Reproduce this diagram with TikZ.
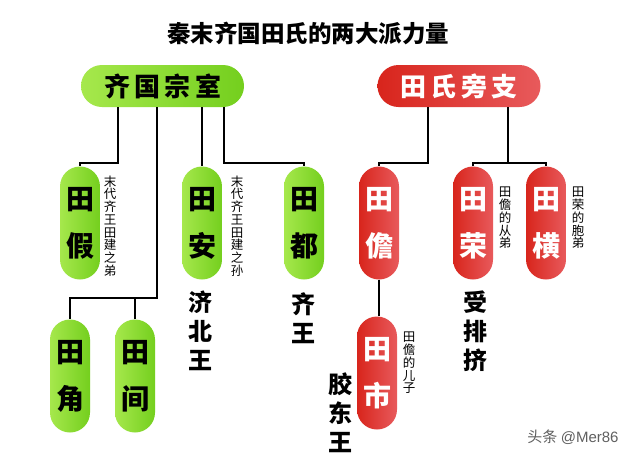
\documentclass[tikz,border=0pt]{standalone}
\usepackage{fontspec}
\newfontfamily\cjk{Noto Sans CJK SC}
\newfontfamily\wmfont{Liberation Sans}
\definecolor{gL}{HTML}{A6E84C}
\definecolor{gR}{HTML}{74CF1E}
\definecolor{rL}{HTML}{D8251C}
\definecolor{rR}{HTML}{E85A5C}
\definecolor{wm}{HTML}{606060}
\tikzset{
  head/.style={rounded corners=21pt, minimum width=163pt, minimum height=42pt, inner sep=0pt,
    font=\cjk\bfseries\fontsize{26}{30}\selectfont},
  ghead/.style={head, left color=gL, right color=gR, text=black},
  rhead/.style={head, left color=rL, right color=rR, text=white},
  pill/.style={rounded corners=20pt, minimum width=40pt, minimum height=113pt, inner sep=0pt,
    align=center, font=\cjk\bfseries\fontsize{28}{47}\selectfont},
  gpill/.style={pill, left color=gL, right color=gR, text=black},
  rpill/.style={pill, left color=rL, right color=rR, text=white},
  note/.style={align=center, inner sep=0pt, font=\cjk\fontsize{12.5}{12.75}\selectfont},
  title/.style={align=center, inner sep=0pt, font=\cjk\bfseries\fontsize{24}{29}\selectfont},
  conn/.style={draw=black, line width=1.4pt},
}
\begin{document}
\begin{tikzpicture}[x=1pt,y=-1pt]
\useasboundingbox[fill=white] (0,0) rectangle (640,459);
\node[inner sep=0pt, font=\cjk\bfseries\fontsize{23.5}{28}\selectfont] (ttl) at (308,33) {秦末齐国田氏的两大派力量};
\node[ghead] (qz) at (162.5,86) {齐\,国\,宗\,室};
\node[rhead] (pz) at (459,86) {田\,氏\,旁\,支};
% pills
\node[gpill] (jia)  at (80,223)  {田\\假};
\node[gpill] (an)   at (202,223) {田\\安};
\node[gpill] (du)   at (304,223) {田\\都};
\node[gpill] (jue)  at (70,376)  {田\\角};
\node[gpill] (jian) at (135,376) {田\\间};
\node[rpill] (dan)  at (379,223) {田\\儋};
\node[rpill] (rong) at (473,223) {田\\荣};
\node[rpill] (heng) at (546,223) {田\\横};
\node[rpill] (shi)  at (377,373) {田\\市};
% notes
\node[note] (njia)  at (110,226) {末\\代\\齐\\王\\田\\建\\之\\弟};
\node[note] (nan)   at (237,226) {末\\代\\齐\\王\\田\\建\\之\\孙};
\node[note] (nrong) at (505,218) {田\\儋\\的\\从\\弟};
\node[note] (nheng) at (578,218) {田\\荣\\的\\胞\\弟};
\node[note] (nshi)  at (409,363) {田\\儋\\的\\儿\\子};
% titles
\node[title] (tan)   at (200,331) {济\\北\\王};
\node[title] (tdu)   at (303,318) {齐\\王};
\node[title] (trong) at (475,331) {受\\排\\挤};
\node[title] (tshi)  at (340,413) {胶\\东\\王};
% watermark
\node[inner sep=0pt, text=wm, font=\cjk\fontsize{15}{18}\selectfont] (wmk) at (573,437) {头条 {\wmfont @Mer86}};
% connectors
\coordinate (a1) at (118,163);
\coordinate (jj) at (157,298);
\coordinate (d1) at (224,163);
\coordinate (r1) at (428,163);
\coordinate (r2) at (508,163);
\draw[conn] (qz.south -| a1) -- (a1) -| (jia.north);
\draw[conn] (qz.south -| jj) -- (jj) -| (jue.north);
\draw[conn] (jian.north) -- (jian.north |- jj);
\draw[conn] (qz.south -| an.north) -- (an.north);
\draw[conn] (qz.south -| d1) -- (d1) -| (du.north);
\draw[conn] (pz.south -| r1) -- (r1) -| (dan.north);
\draw[conn] (pz.south -| r2) -- (r2);
\draw[conn] (rong.north) |- (r2) -| (heng.north);
\draw[conn] (dan.south) -- (dan.south |- shi.north);
\end{tikzpicture}
\end{document}
